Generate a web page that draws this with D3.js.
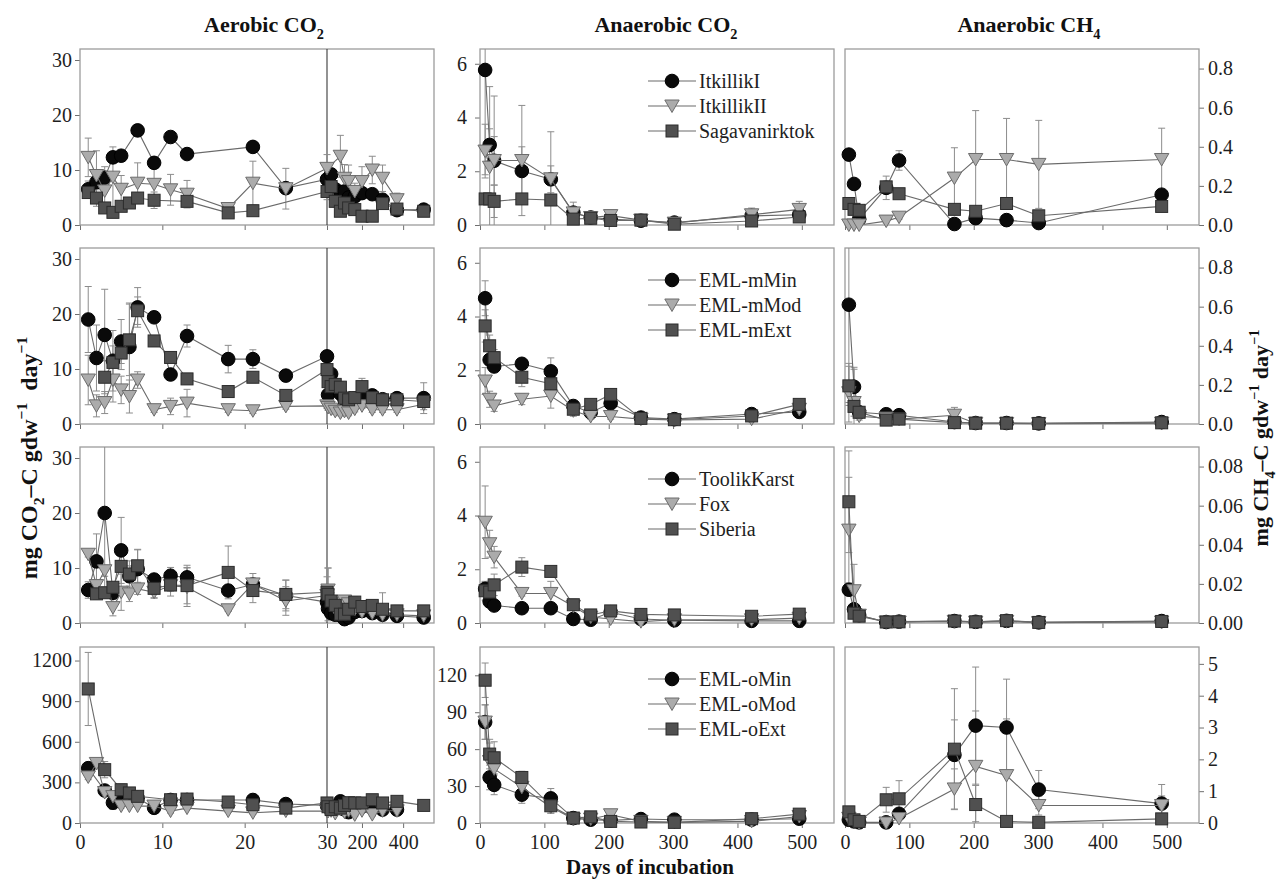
<!DOCTYPE html>
<html><head><meta charset="utf-8">
<script src="https://cdn.jsdelivr.net/npm/d3@7"></script>
<style>
body{margin:0;background:#fff}
svg{display:block}
svg text{font-family:"Liberation Serif","Times New Roman",serif !important}
</style>
</head><body>
<svg id="c" width="1280" height="881"></svg>
<script>
const N = null;
// ---------- days ----------
const aeroDays = [1,2,3,4,5,6,7,9,11,13,18,21,25,30,35,50,70,95,115,135,165,200,250,300,370,500];
const anaDays  = [8,15,22,65,110,145,172,203,250,302,422,496];
const ch4Days  = [6,14,22,64,84,170,203,251,301,492];

// ---------- series names ----------
const rowNames = [
  ["ItkillikI","ItkillikII","Sagavanirktok"],
  ["EML-mMin","EML-mMod","EML-mExt"],
  ["ToolikKarst","Fox","Siberia"],
  ["EML-oMin","EML-oMod","EML-oExt"]
];
const colTitles = [["Aerobic CO","2"],["Anaerobic CO","2"],["Anaerobic CH","4"]];

// ---------- Aerobic CO2 ----------
const aeroItkI     = [6.5,7.8,8.6,12.3,12.6,N,17.2,11.3,16.0,12.9,N,14.2,6.7, 8.3,N,9.2,6.5,6.0,6.1,5.0,5.2,5.8,5.6,4.6,2.7,2.8];
const aeroItkIErr  = [1.5,2,2,1,1,0,0.8,1,0.8,0.8,0,0.8,1, 0,0,1,1,1,1,1,1,1,1,1,0.5,0.5];
const aeroItkII    = [12.3,9.0,6.2,8.7,6.5,N,7.6,7.4,6.4,5.6,3.0,7.6,6.6, 10.3,N,N,N,12.5,8.5,7.9,6.1,7.9,10.0,8.5,4.6,N];
const aeroItkIIErr = [3.5,4.5,2.5,5.5,2.5,0,3.7,3.9,2.8,2.5,0.5,4.0,3.7, 2.5,0,0,0,3.8,2.5,3.0,1.5,2.7,2.5,2.4,1.2,0];
const aeroSaga     = [5.9,4.9,3.1,2.3,3.4,4.0,4.9,4.5,N,4.3,2.2,2.6,N, 6.1,N,7.0,4.3,2.5,4.0,3.1,2.8,1.6,1.6,3.9,2.9,2.5];
const aeroSagaErr  = [1,1.5,0.8,0.5,0.8,0.8,1,1.5,0,1,0.5,0.5,0, 1.5,0,1.5,1,0.8,0.8,0.8,0.8,0.5,0.5,0.8,0.5,0.5];

const aeroMMin     = [19.0,12.0,16.2,11.5,15.0,14.0,21.2,19.4,9.0,16.0,11.8,11.8,8.8, 12.3,5.3,9.1,7.0,5.5,4.5,4.2,4.6,5.3,5.2,4.5,4.7,4.7];
const aeroMMinErr  = [6,6,8.3,5.5,4,8,3.6,1,1,2,2.5,1.7,1, 0.5,0.5,0.5,0.5,0.5,0.5,0.5,0.5,0.5,0.5,0.5,1,2.8];
const aeroMMod     = [8.0,3.3,3.9,8.0,6.2,5.0,8.0,2.6,3.2,3.8,2.6,2.4,3.2, 3.3,3.0,2.7,2.3,2.0,2.3,2.0,2.7,3.3,2.6,2.6,2.6,3.6];
const aeroMModErr  = [4.5,2,2,4,2.5,3,1.5,0.5,1.5,2.5,0.5,0.5,0.5, 0.5,0.5,0.5,0.5,0.5,0.5,0.5,0.5,0.5,0.5,0.5,0.5,1];
const aeroMExt     = [N,N,8.5,11.2,12.9,15.3,20.6,15.1,12.1,8.2,5.9,8.5,5.2, 9.9,7.7,6.8,7.2,6.7,4.7,4.4,4.8,6.8,4.8,4.4,4.4,4.1];
const aeroMExtErr  = [0,0,3,3,3,6.5,2.5,1,1,1,1,1,1, 1,1,1,1,1,1,1,1,1.5,1,1,1,1];

const aeroToolik    = [6.0,11.2,20.0,5.5,13.2,8.5,9.8,7.9,8.6,8.3,5.9,7.0,5.0, 3.8,2.6,1.8,1.5,1.4,0.7,1.0,2.0,2.2,1.8,1.5,1.3,1.0];
const aeroToolikErr = [1.5,5,14,1,6,2.8,3.5,1,1.5,2.2,1,2,2.8, 1,1,0.5,0.5,0.5,0.5,0.5,0.5,0.5,0.5,0.5,0.5,0.5];
const aeroFox       = [12.5,6.8,9.5,2.8,5.6,5.3,6.2,5.6,6.8,6.5,2.4,7.1,4.0, 5.0,6.0,3.5,2.5,2.0,4.0,3.5,2.5,2.0,1.8,1.5,1.5,1.3];
const aeroFoxErr    = [0.5,1,1,1.5,3.3,1.4,1,1,1,3.5,0.3,1,2.6, 1,4,2,2,2,1,1,1,1,1,1,1,0.5];
const aeroSiberia   = [N,5.3,5.5,6.5,10.3,8.9,10.4,6.3,6.9,6.8,9.2,5.9,5.2, 5.6,5.2,4.0,3.2,1.6,1.6,2.5,3.8,3.0,3.2,2.5,2.2,2.2];
const aeroSiberiaErr= [0,1,1,1,1,1.5,3,1.8,2,3.3,4.8,2.2,2.6, 2.8,4.8,1,1,1,1,2,1,1,1,3,1,0.5];

const aeroOMin     = [405,N,240,150,200,195,185,112,170,170,N,170,140, 130,N,120,N,160,100,80,111,120,111,99,99,N];
const aeroOMinErr  = [30,0,30,50,30,20,20,15,20,20,0,45,20, 20,0,20,0,20,20,20,20,20,20,20,20,0];
const aeroOMod     = [340,440,225,195,125,125,125,125,88,110,88,75,88, 88,85,90,70,100,80,90,60,90,62,90,90,N];
const aeroOModErr  = [20,30,20,20,15,10,10,10,15,10,10,10,10, 10,10,10,10,10,10,10,10,10,10,10,10,0];
const aeroOExt     = [990,N,394,N,246,222,197,N,172,177,155,135,110, 148,120,100,120,110,130,150,148,148,172,148,160,130];
const aeroOExtErr  = [270,0,60,0,40,30,30,0,30,30,20,30,20, 20,20,20,20,20,20,20,20,20,20,20,20,10];

// ---------- Anaerobic CO2 ----------
const anaItkI      = [5.77,2.98,2.39,2.01,1.70,0.46,0.28,0.22,0.16,0.09,0.34,0.38];
const anaItkIErr   = [3.9,0.6,0.9,0.9,0.5,0.15,0.1,0.1,0,0.05,0.2,0.1];
const anaItkII     = [2.75,2.15,2.4,2.4,1.72,0.45,0.28,0.35,0.18,0.07,0.38,0.58];
const anaItkIIErr  = [1.0,3.0,2.4,2.05,1.75,0.4,0.1,0.2,0.1,0.1,0.25,0.3];
const anaSaga      = [0.97,0.97,0.88,0.97,0.93,0.22,0.25,0.17,0.18,0.03,0.15,0.3];
const anaSagaErr   = [0.2,0.2,0.6,0.1,0.1,0.05,0.05,0.05,0.05,0.05,0.05,0.1];
const anaMMin      = [4.68,2.39,2.14,2.24,1.96,0.67,0.43,0.77,0.24,0.18,0.37,0.45];
const anaMMinErr   = [0.65,0.3,0.2,0.2,0.5,0.15,0.1,0.2,0.05,0.05,0.1,0.1];
const anaMMod      = [1.6,0.92,0.67,0.92,1.04,0.49,0.28,0.28,0.18,0.15,0.18,0.55];
const anaMModErr   = [0.5,0.3,0.2,0.2,0.45,0.2,0.1,0.1,0.05,0.05,0.1,0.1];
const anaMExt      = [3.65,2.91,2.47,1.74,1.5,0.55,0.73,1.1,0.21,0.16,0.3,0.73];
const anaMExtErr   = [0.6,0.4,0.3,0.35,0.3,0.15,0.1,0.15,0.05,0.05,0.1,0.1];
const anaToolik    = [1.27,0.8,0.65,0.55,0.55,0.15,0.12,0.4,0.15,0.1,0.08,0.08];
const anaToolikErr = [0.25,0.15,0.1,0.05,0.05,0.05,0.05,0.05,0.05,0.05,0.05,0.05];
const anaFox       = [3.75,2.95,2.45,1.1,1.1,0.62,0.22,0.15,0.05,0.12,0.12,0.18];
const anaFoxErr    = [1.35,0.5,0.4,0.1,0.45,0.1,0.1,0.1,0.1,0.1,0.1,0.1];
const anaSiberia   = [1.2,1.15,1.42,2.08,1.92,0.68,0.3,0.45,0.32,0.3,0.25,0.33];
const anaSiberiaErr= [0.35,0.4,0.4,0.35,0.1,0.2,0.1,0.1,0.1,0.1,0.1,0.1];
const anaOMin      = [82,37,31,23,20,4,2.7,2.1,3.2,2.7,2.7,3.5];
const anaOMinErr   = [14,10,8,7,8,2,2,2,1,1,1,1];
const anaOMod      = [82,50,44,29,13,3.2,3.2,6.7,1.3,0.5,1.3,5.3];
const anaOModErr   = [14,15,12,6,5,2,2,4,1,1,1,1];
const anaOExt      = [116,56,53,37,14,4,5,1.3,0.8,0.5,3.5,7.2];
const anaOExtErr   = [14,12,13,5,6,2,2,2,1,1,1,1];

// ---------- Anaerobic CH4 ----------
const chItkI       = [0.36,0.21,0.03,0.19,0.33,0.005,0.035,0.025,0.01,0.155];
const chItkIErr    = [0.02,0.02,0.02,0.06,0.05,0.005,0.01,0.01,0.005,0.02];
const chItkII      = [0,0,0,0.02,0.04,0.24,0.335,0.335,0.31,0.335];
const chItkIIErr   = [0,0,0,0.01,0.01,0.155,0.25,0.21,0.225,0.16];
const chSaga       = [0.11,0.08,0.075,0.195,0.16,0.08,0.07,0.11,0.047,0.095];
const chSagaErr    = [0.03,0.02,0.02,0.03,0.02,0.02,0.02,0.02,0.02,0.02];
const chMMin       = [0.61,0.19,0.06,0.05,0.045,0.01,0.005,0.005,0.003,0.01];
const chMMinErr    = [0.5,0.1,0.03,0.02,0.02,0.005,0.003,0.003,0.002,0.005];
const chMMod       = [0.16,0.11,0.04,0.03,0.025,0.045,0.004,0.003,0.002,0.004];
const chMModErr    = [0.15,0.17,0.02,0.01,0.01,0.04,0.002,0.002,0.002,0.002];
const chMExt       = [0.195,0.09,0.06,0.02,0.025,0.007,0.004,0.004,0.003,0.006];
const chMExtErr    = [0.1,0.05,0.02,0.01,0.01,0.005,0.003,0.003,0.002,0.003];
const chToolik     = [0.017,0.007,0.004,0.0005,0.0007,0.001,0.0006,0.0011,0.0003,0.001];
const chToolikErr  = [0.003,0.002,0.001,0.0003,0.0003,0.0005,0.0003,0.0005,0.0002,0.0005];
const chFox        = [0.0475,0.0165,0.004,0.0005,0.0005,0.0008,0.0004,0.0008,0.0002,0.0005];
const chFoxErr     = [0.027,0.0135,0.002,0.0003,0.0003,0.0003,0.0003,0.0003,0.0002,0.0003];
const chSiberia    = [0.062,0.005,0.0035,0.0005,0.0006,0.001,0.0006,0.0012,0.0003,0.0008];
const chSiberiaErr = [0.026,0.002,0.001,0.0003,0.0003,0.0003,0.0003,0.0003,0.0002,0.0003];
const chOMin       = [0.1,0.05,0.02,0.02,0.29,2.14,3.06,3.0,1.05,0.61];
const chOMinErr    = [0.05,0.03,0.02,0.02,0.1,1.1,1.84,1.52,0.6,0.6];
const chOMod       = [0.15,0.05,0,0,0.14,1.07,1.78,1.49,0.55,0.55];
const chOModErr    = [0.05,0.03,0.02,0.02,0.05,0.63,1.74,1.78,0.3,0.3];
const chOExt       = [0.35,0.1,0.05,0.73,0.76,2.32,0.58,0.05,0.02,0.13];
const chOExtErr    = [0.15,0.05,0.03,0.39,0.57,1.9,0.6,0.1,0.05,0.1];

// ---------- axis ticks ----------
const aeroXTicks = [0,10,20,30,200,400];
const anaXTicks  = [0,100,200,300,400,500];
const yTicksCO2a = [0,10,20,30];
const yTicksCO2aBig = [0,300,600,900,1200];
const yTicksCO2n = [0,2,4,6];
const yTicksCO2nBig = [0,30,60,90,120];
const yTicksCH4 = [0,0.2,0.4,0.6,0.8];
const yTicksCH4small = [0,0.02,0.04,0.06,0.08];
const yTicksCH4big = [0,1,2,3,4,5];

// ---------- assemble panels ----------
const panelData = [
  [ {x:aeroDays, s:[[aeroItkI,aeroItkIErr],[aeroItkII,aeroItkIIErr],[aeroSaga,aeroSagaErr]]},
    {x:anaDays,  s:[[anaItkI,anaItkIErr],[anaItkII,anaItkIIErr],[anaSaga,anaSagaErr]]},
    {x:ch4Days,  s:[[chItkI,chItkIErr],[chItkII,chItkIIErr],[chSaga,chSagaErr]]} ],
  [ {x:aeroDays, s:[[aeroMMin,aeroMMinErr],[aeroMMod,aeroMModErr],[aeroMExt,aeroMExtErr]]},
    {x:anaDays,  s:[[anaMMin,anaMMinErr],[anaMMod,anaMModErr],[anaMExt,anaMExtErr]]},
    {x:ch4Days,  s:[[chMMin,chMMinErr],[chMMod,chMModErr],[chMExt,chMExtErr]]} ],
  [ {x:aeroDays, s:[[aeroToolik,aeroToolikErr],[aeroFox,aeroFoxErr],[aeroSiberia,aeroSiberiaErr]]},
    {x:anaDays,  s:[[anaToolik,anaToolikErr],[anaFox,anaFoxErr],[anaSiberia,anaSiberiaErr]]},
    {x:ch4Days,  s:[[chToolik,chToolikErr],[chFox,chFoxErr],[chSiberia,chSiberiaErr]]} ],
  [ {x:aeroDays, s:[[aeroOMin,aeroOMinErr],[aeroOMod,aeroOModErr],[aeroOExt,aeroOExtErr]]},
    {x:anaDays,  s:[[anaOMin,anaOMinErr],[anaOMod,anaOModErr],[anaOExt,anaOExtErr]]},
    {x:ch4Days,  s:[[chOMin,chOMinErr],[chOMod,chOModErr],[chOExt,chOExtErr]]} ]
];
const yMax = [[32,32,32,1300],[6.55,6.55,6.55,143],[0.9,0.9,0.09,5.53]];
const yTicks = [[yTicksCO2a,yTicksCO2a,yTicksCO2a,yTicksCO2aBig],
                [yTicksCO2n,yTicksCO2n,yTicksCO2n,yTicksCO2nBig],
                [yTicksCH4,yTicksCH4,yTicksCH4small,yTicksCH4big]];
const yFmt = [["d","d","d","d"],["d","d","d","d"],[".1f",".1f",".2f","d"]];

// ---------- layout ----------
const SERIF = "'Liberation Serif','Times New Roman',serif";
const svg = d3.select("#c");
const rowTop = [49,248,447,647], H = 176;
const colX = [
  d3.scaleLinear().domain([0,30,550]).range([80,327,434]),
  d3.scaleLinear().domain([0,550]).range([480,834]),
  d3.scaleLinear().domain([0,550]).range([845,1199])
];
const xTicks = [aeroXTicks, anaXTicks, anaXTicks];

const FRAME = "#9c9c9c", TICK = "#6f6f6f", LBL = "#1e1e1e";
const LINE = "#6a6a6a", ERR = "#8c8c8c";
const mk = [
  {type:"circle", fill:"#0a0a0a", stroke:"#000"},
  {type:"tri", fill:"#ababab", stroke:"#6c6c6c"},
  {type:"sq", fill:"#505050", stroke:"#2c2c2c"}
];

function marker(g, m, cx, cy){
  if(m.type==="circle"){
    g.append("circle").attr("cx",cx).attr("cy",cy).attr("r",6.8)
      .attr("fill",m.fill).attr("stroke",m.stroke).attr("stroke-width",1);
  } else if(m.type==="tri"){
    g.append("path").attr("transform",`translate(${cx},${cy})`)
      .attr("d","M-7.2,-6 L7.2,-6 L0,6.5 Z")
      .attr("fill",m.fill).attr("stroke",m.stroke).attr("stroke-width",1);
  } else {
    g.append("rect").attr("x",cx-6).attr("y",cy-6).attr("width",12).attr("height",12)
      .attr("fill",m.fill).attr("stroke",m.stroke).attr("stroke-width",1);
  }
}

function styleText(sel){
  sel.style("font-family",SERIF).attr("font-size",20).attr("fill",LBL);
}

function rich(g, parts, fs, weight){
  const t = g.append("text").attr("text-anchor","middle")
    .attr("font-size",fs).attr("font-weight",weight).attr("fill","#111")
    .style("font-family",SERIF);
  let cur = 0;
  parts.forEach(([s,k])=>{
    const target = k==="sub" ? fs*0.3 : (k==="sup" ? -fs*0.42 : 0);
    const ts = t.append("tspan").text(s).attr("dy", target-cur);
    if(k) ts.attr("font-size", fs*0.65);
    cur = target;
  });
  return t;
}

const defs = svg.append("defs");

for(let r=0;r<4;r++){
  for(let c=0;c<3;c++){
    const pd = panelData[r][c];
    const x = colX[c];
    const [x0,x1] = [x.range()[0], x.range()[x.range().length-1]];
    const top = rowTop[r], bot = top+H;
    const y = d3.scaleLinear().domain([0,yMax[c][r]]).range([bot,top]);
    const g = svg.append("g");
    const cid = `clip${r}${c}`;
    defs.append("clipPath").attr("id",cid).append("rect")
      .attr("x",x0).attr("y",top).attr("width",x1-x0).attr("height",H);

    // x axis ticks
    const xa = d3.axisBottom(x).tickValues(xTicks[c]).tickSize(5).tickPadding(7)
      .tickFormat(r===3 ? d3.format("d") : "");
    const gx = g.append("g").attr("transform",`translate(0,${bot})`).call(xa);
    gx.attr("font-family",null);
    gx.select(".domain").remove();
    gx.selectAll("line").attr("stroke",TICK);
    styleText(gx.selectAll("text"));

    // y axis
    const fmt = d3.format(yFmt[c][r]);
    let ya, gy;
    if(c<2){
      ya = d3.axisLeft(y).tickValues(yTicks[c][r]).tickSize(5).tickPadding(c===0?3:8).tickFormat(fmt);
      gy = g.append("g").attr("transform",`translate(${x0},0)`).call(ya);
    } else {
      ya = d3.axisRight(y).tickValues(yTicks[c][r]).tickSize(5).tickPadding(4).tickFormat(fmt);
      gy = g.append("g").attr("transform",`translate(${x1},0)`).call(ya);
    }
    gy.attr("font-family",null);
    gy.select(".domain").remove();
    gy.selectAll("line").attr("stroke",TICK);
    styleText(gy.selectAll("text"));

    // frame
    g.append("rect").attr("x",x0).attr("y",top).attr("width",x1-x0).attr("height",H)
      .attr("fill","none").attr("stroke",FRAME).attr("stroke-width",1.3);

    // break line in aerobic column
    if(c===0){
      g.append("line").attr("x1",x(30)).attr("x2",x(30)).attr("y1",top).attr("y2",bot)
        .attr("stroke","#3a3a3a").attr("stroke-width",1.1);
    }

    // error bars
    const ge = g.append("g").attr("clip-path",`url(#${cid})`);
    pd.s.forEach(([vals,errs])=>{
      vals.forEach((v,i)=>{
        if(v==null || !errs[i]) return;
        const cx = x(pd.x[i]);
        const ya = y(v+errs[i]), yb = y(Math.max(0,v-errs[i]));
        ge.append("line").attr("x1",cx).attr("x2",cx).attr("y1",ya).attr("y2",yb)
          .attr("stroke",ERR).attr("stroke-width",1);
        ge.append("line").attr("x1",cx-3.5).attr("x2",cx+3.5).attr("y1",ya).attr("y2",ya)
          .attr("stroke",ERR).attr("stroke-width",1);
        if(v-errs[i]>0)
          ge.append("line").attr("x1",cx-3.5).attr("x2",cx+3.5).attr("y1",yb).attr("y2",yb)
            .attr("stroke",ERR).attr("stroke-width",1);
      });
    });

    // lines + markers per series
    pd.s.forEach(([vals],si)=>{
      const pts = vals.map((v,i)=>({d:pd.x[i], v})).filter(p=>p.v!=null);
      const line = d3.line().x(p=>x(p.d)).y(p=>y(p.v));
      g.append("path").attr("d",line(pts)).attr("fill","none")
        .attr("stroke",LINE).attr("stroke-width",1.1);
      const gm = g.append("g");
      pts.forEach(p=>marker(gm, mk[si], x(p.d), y(p.v)));
    });

    // legend in anaerobic CO2 column
    if(c===1){
      const lg = g.append("g");
      [32,57,82].forEach((off,si)=>{
        const yy = top+off;
        lg.append("line").attr("x1",648).attr("x2",696).attr("y1",yy).attr("y2",yy)
          .attr("stroke",LINE).attr("stroke-width",1.1);
        marker(lg, mk[si], 672, yy);
        const t = lg.append("text").attr("x",699).attr("y",yy).attr("dy","0.35em")
          .text(rowNames[r][si]);
        styleText(t);
      });
    }
  }
}

// column titles
const titleX = [264,666,1029];
colTitles.forEach(([a,b],c)=>{
  const tg = svg.append("g").attr("transform",`translate(${titleX[c]},32)`);
  rich(tg, [[a,null],[b,"sub"]], 22, "bold");
});

// y-axis labels
const gl = svg.append("g").attr("transform","translate(37,458) rotate(-90)");
rich(gl, [["mg CO",null],["2","sub"],["–C gdw",null],["−1","sup"],["  day",null],["−1","sup"]], 24, "bold")
  .attr("style",`white-space:pre;font-family:${SERIF}`);
const gr = svg.append("g").attr("transform","translate(1268,438) rotate(-90)");
rich(gr, [["mg CH",null],["4","sub"],["–C gdw",null],["−1","sup"],[" day",null],["−1","sup"]], 22, "bold");

// x-axis label
svg.append("text").attr("x",650).attr("y",874).attr("text-anchor","middle")
  .attr("font-size",21).attr("font-weight","bold").attr("fill","#111")
  .style("font-family",SERIF).text("Days of incubation");
</script>
</body></html>
